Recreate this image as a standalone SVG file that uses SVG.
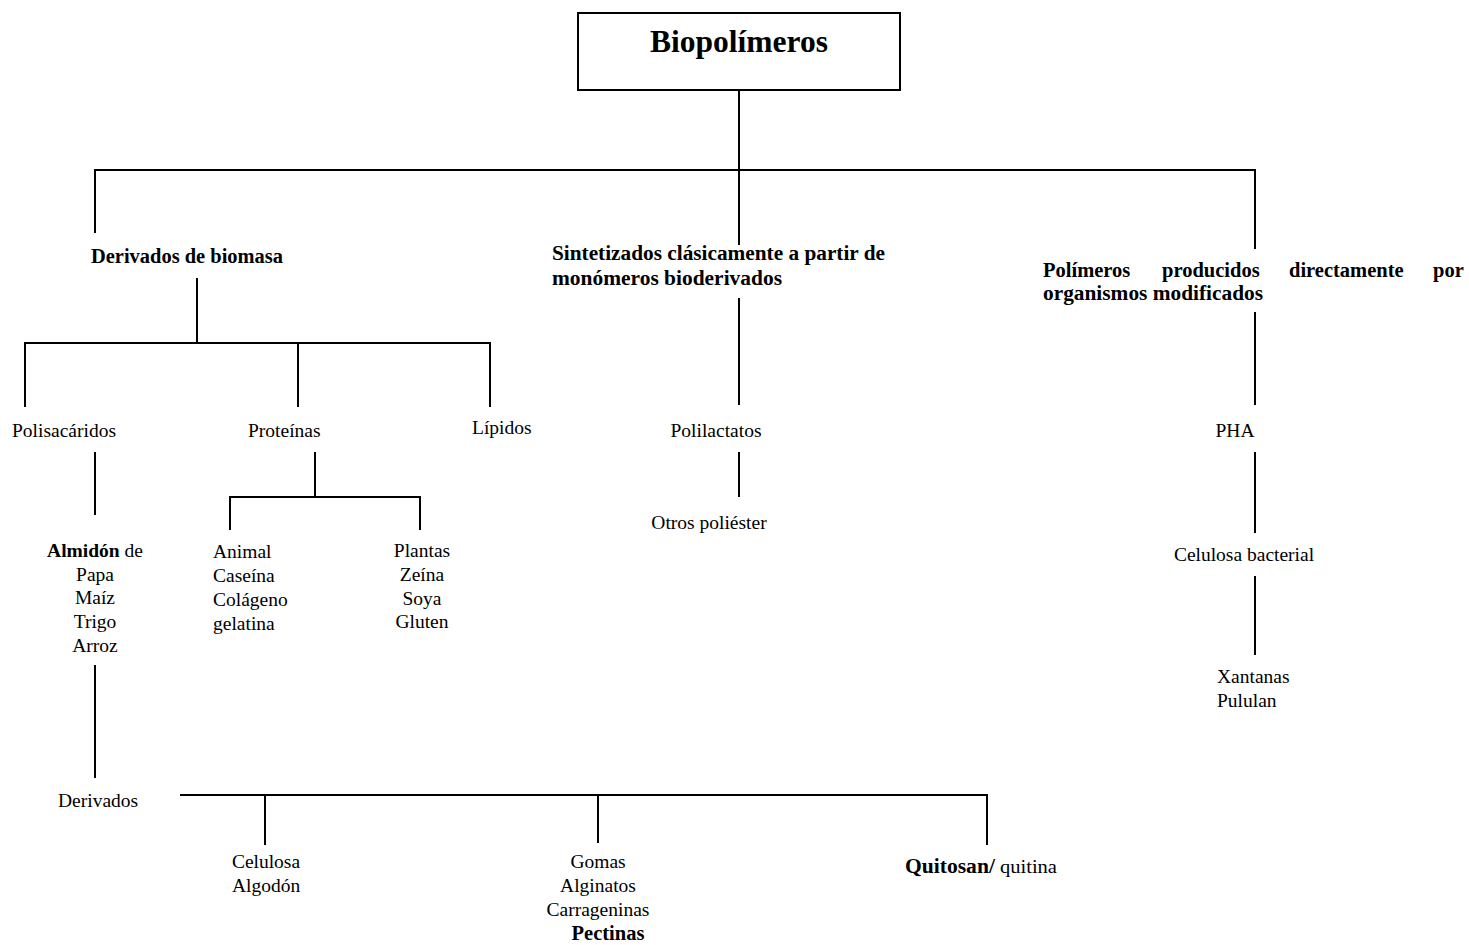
<svg xmlns="http://www.w3.org/2000/svg" width="1469" height="945" viewBox="0 0 1469 945">
<style>
text{font-family:"Liberation Serif","Times New Roman",serif;font-size:19.5px;fill:#000}
.b{font-weight:bold}
.h{font-size:20.5px;font-weight:bold}
.c{text-anchor:middle}
.t{font-size:31.5px;font-weight:bold}
.ln{stroke:#000;stroke-width:2;fill:none}
</style>
<rect width="1469" height="945" fill="#fff"/>
<g id="connectors" class="ln">
<path d="M739 90V245M95 233V170H1255V249"/>
<path d="M739 298V405M739 452V497"/>
<path d="M197 278V343M25 407V343H490V407M298 343V407"/>
<path d="M95 452V515M95 665V778"/>
<path d="M315 452V497M230 530V497H420V530"/>
<path d="M180 795H987V845M265 795V845M598 795V843"/>
<path d="M1255 312V405M1255 452V533M1255 576V655"/>
</g>
<g id="n-biopolimeros"><rect x="578" y="13" width="322" height="77" fill="#fff" stroke="#000" stroke-width="2"/><text class="t c" x="739" y="52">Biopolímeros</text></g>
<g id="n-biomasa"><text class="h" x="91" y="263" textLength="192" lengthAdjust="spacingAndGlyphs">Derivados de biomasa</text></g>
<g id="n-sintetizados"><text class="h" x="552" y="260" textLength="333" lengthAdjust="spacingAndGlyphs">Sintetizados clásicamente a partir de</text><text class="h" x="552" y="285" textLength="230" lengthAdjust="spacingAndGlyphs">monómeros bioderivados</text></g>
<g id="n-polimeros"><text class="h" y="277"><tspan x="1043">Polímeros</tspan><tspan x="1162">producidos</tspan><tspan x="1289">directamente</tspan><tspan x="1433">por</tspan></text><text class="h" x="1043" y="300" textLength="220" lengthAdjust="spacingAndGlyphs">organismos modificados</text></g>
<g id="n-polisacaridos"><text x="12" y="437">Polisacáridos</text></g>
<g id="n-proteinas"><text x="248" y="437">Proteínas</text></g>
<g id="n-lipidos"><text x="472" y="434">Lípidos</text></g>
<g id="n-polilactatos"><text class="c" x="716" y="437">Polilactatos</text></g>
<g id="n-otros"><text class="c" x="709" y="529">Otros poliéster</text></g>
<g id="n-pha"><text class="c" x="1235" y="437">PHA</text></g>
<g id="n-celbact"><text class="c" x="1244" y="561">Celulosa bacterial</text></g>
<g id="n-xantanas"><text x="1217" y="683">Xantanas</text><text x="1217" y="707">Pululan</text></g>
<g id="n-almidon"><text class="c" x="95" y="557"><tspan class="b">Almidón</tspan> de</text><text class="c" x="95" y="581">Papa</text><text class="c" x="95" y="604">Maíz</text><text class="c" x="95" y="628">Trigo</text><text class="c" x="95" y="652">Arroz</text></g>
<g id="n-animal"><text x="213" y="558">Animal</text><text x="213" y="582">Caseína</text><text x="213" y="606">Colágeno</text><text x="213" y="630">gelatina</text></g>
<g id="n-plantas"><text class="c" x="422" y="557">Plantas</text><text class="c" x="422" y="581">Zeína</text><text class="c" x="422" y="605">Soya</text><text class="c" x="422" y="628">Gluten</text></g>
<g id="n-derivados"><text x="58" y="807">Derivados</text></g>
<g id="n-celulosa"><text class="c" x="266" y="868">Celulosa</text><text class="c" x="266" y="892">Algodón</text></g>
<g id="n-gomas"><text class="c" x="598" y="868">Gomas</text><text class="c" x="598" y="892">Alginatos</text><text class="c" x="598" y="916">Carrageninas</text><text class="c h" x="608" y="940">Pectinas</text></g>
<g id="n-quitosan"><text x="905" y="873" textLength="152" lengthAdjust="spacingAndGlyphs"><tspan class="h">Quitosan/</tspan> quitina</text></g>
</svg>
